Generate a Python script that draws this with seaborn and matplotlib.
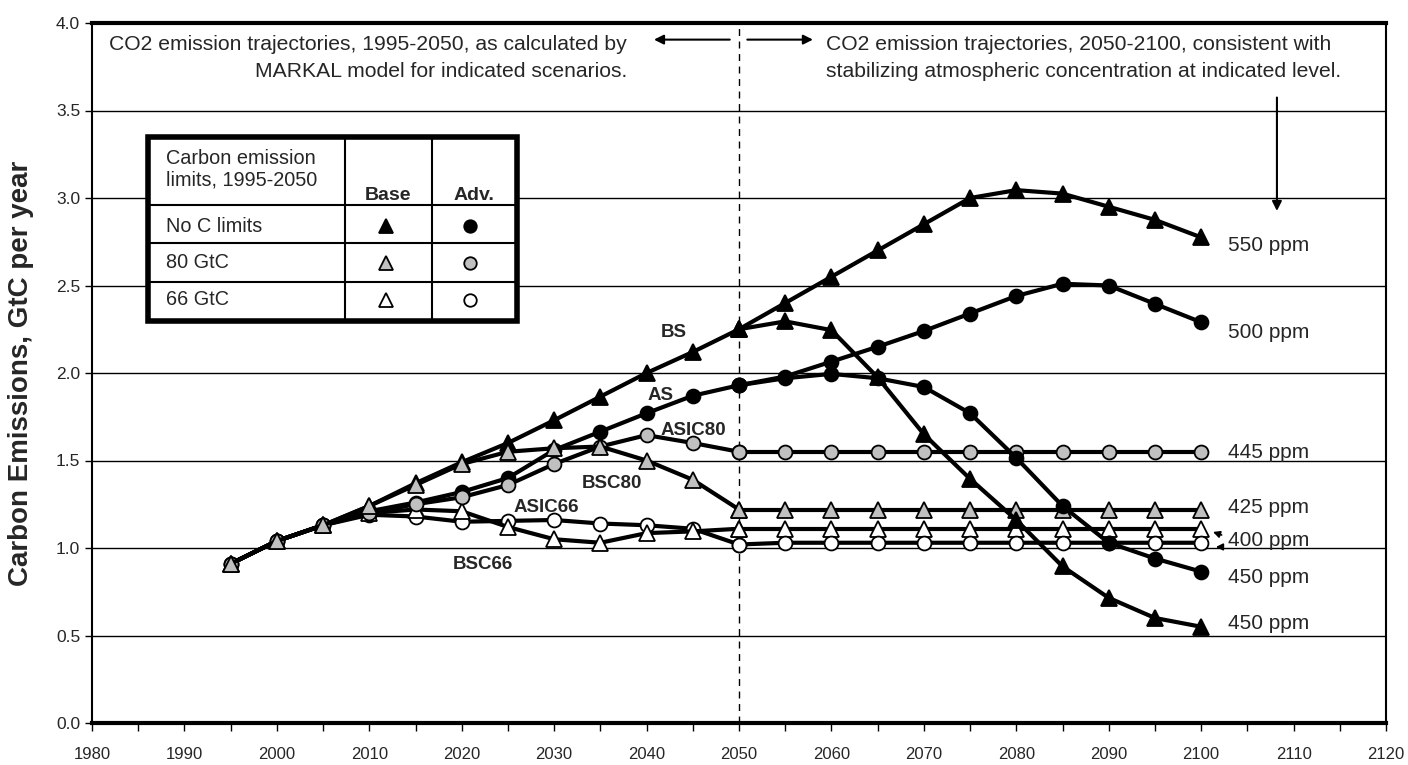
import matplotlib
matplotlib.use('Agg')
import matplotlib.pyplot as plt
import seaborn as sns
from matplotlib.lines import Line2D
from matplotlib.patches import Rectangle
from matplotlib.transforms import Affine2D

# data
years_a = [1995, 2000, 2005, 2010, 2015, 2020, 2025, 2030, 2035, 2040, 2045, 2050]
years_b = [2050, 2055, 2060, 2065, 2070, 2075, 2080, 2085, 2090, 2095, 2100]

bs = [0.91, 1.04, 1.13, 1.24, 1.37, 1.49, 1.60, 1.73, 1.865, 2.00, 2.12, 2.25]
as_ = [0.91, 1.04, 1.13, 1.21, 1.26, 1.32, 1.40, 1.56, 1.665, 1.77, 1.87, 1.93]
asic80 = [0.91, 1.04, 1.13, 1.20, 1.25, 1.29, 1.36, 1.48, 1.58, 1.645, 1.60, 1.55]
bsc80 = [0.91, 1.04, 1.13, 1.24, 1.36, 1.48, 1.55, 1.57, 1.58, 1.50, 1.39, 1.22]
asic66 = [0.91, 1.04, 1.13, 1.19, 1.18, 1.15, 1.155, 1.16, 1.14, 1.13, 1.11, 1.02]
bsc66 = [0.91, 1.04, 1.13, 1.20, 1.22, 1.21, 1.12, 1.05, 1.03, 1.085, 1.095, 1.11]

bs_550 = [2.25, 2.40, 2.55, 2.70, 2.85, 3.00, 3.045, 3.025, 2.95, 2.875, 2.775]
bs_450 = [2.25, 2.295, 2.245, 1.975, 1.65, 1.395, 1.16, 0.895, 0.715, 0.60, 0.55]
as_500 = [1.93, 1.98, 2.065, 2.15, 2.24, 2.34, 2.44, 2.51, 2.50, 2.395, 2.29]
as_450 = [1.93, 1.97, 1.995, 1.97, 1.92, 1.77, 1.515, 1.24, 1.03, 0.94, 0.865]
asic80_445 = [1.55, 1.55, 1.55, 1.55, 1.55, 1.55, 1.55, 1.55, 1.55, 1.55, 1.55]
bsc80_425 = [1.22, 1.22, 1.22, 1.22, 1.22, 1.22, 1.22, 1.22, 1.22, 1.22, 1.22]
asic66_400 = [1.02, 1.03, 1.03, 1.03, 1.03, 1.03, 1.03, 1.03, 1.03, 1.03, 1.03]
bsc66_400 = [1.11, 1.11, 1.11, 1.11, 1.11, 1.11, 1.11, 1.11, 1.11, 1.11, 1.11]

scenario_labels = ['BS', 'AS', 'ASIC80', 'BSC80', 'ASIC66', 'BSC66']
scenario_pos = [(2042.9, 2.234), (2041.5, 1.869), (2045.1, 1.674),
                (2036.3, 1.366), (2029.2, 1.234), (2022.3, 0.903)]
ppm_labels = ['550 ppm', '500 ppm', '445 ppm', '425 ppm', '400 ppm', '450 ppm', '450 ppm']
ppm_y = [2.731, 2.229, 1.543, 1.234, 1.04, 0.834, 0.571]

GREY = '#C0C0C0'

sns.set_theme(style="white")
plt.rcParams['font.family'] = ['Liberation Sans', 'DejaVu Sans']

fig = plt.figure(figsize=(14.08, 7.65), dpi=100)
ax = fig.add_axes([92 / 1408, 1 - 723 / 765, (1386 - 92) / 1408, 700 / 765])


def draw(x, y, marker, face, ms):
    sns.lineplot(x=x, y=y, ax=ax, color='black', lw=3, marker=marker, ms=ms,
                 markerfacecolor=face, markeredgecolor='black', markeredgewidth=1.3,
                 errorbar=None, legend=False)


# 1995-2050
draw(years_a, asic66, 'o', 'white', 10)
draw(years_a, bsc66, '^', 'white', 12)
draw(years_a, as_, 'o', 'black', 10)
draw(years_a, bs, '^', 'black', 12)
draw(years_a, asic80, 'o', GREY, 10)
draw(years_a, bsc80, '^', GREY, 12)
# 2050-2100
draw(years_b, asic80_445, 'o', GREY, 10)
draw(years_b, bsc80_425, '^', GREY, 12)
draw(years_b, bsc66_400, '^', 'white', 12)
draw(years_b, asic66_400, 'o', 'white', 10)
draw(years_b, bs_550, '^', 'black', 12)
draw(years_b, as_500, 'o', 'black', 10)
draw(years_b, as_450, 'o', 'black', 10)
draw(years_b, bs_450, '^', 'black', 12)

ax.axvline(2050, color='black', lw=1, ls=(0, (5, 4)), zorder=1)

ax.set_xlim(1980, 2120)
ax.set_ylim(0, 4)
ax.set_xticks(range(1980, 2121, 10))
ax.set_xticks(range(1985, 2120, 10), minor=True)
ax.set_yticks([i * 0.5 for i in range(9)])
ax.set_yticklabels([f'{i * 0.5:.1f}' for i in range(9)])
ax.set_axisbelow(True)
ax.yaxis.grid(True, color='black', lw=1)
ax.xaxis.grid(False)
ax.tick_params(axis='x', which='both', bottom=True, direction='out', length=6,
               width=1, color='black', labelsize=12, pad=11)
ax.tick_params(axis='y', left=True, direction='out', length=5, width=1,
               color='black', labelsize=12.5)
for side in ['top', 'bottom']:
    ax.spines[side].set_linewidth(3)
for side in ['left', 'right']:
    ax.spines[side].set_linewidth(1.5)
for s in ax.spines.values():
    s.set_color('black')
ax.set_xlabel('')
ax.set_ylabel('Carbon Emissions, GtC per year', fontsize=20, fontweight='bold')
ax.yaxis.set_label_coords(-0.045, 0.5)

# annotations
ax.text(2037.9, 3.875, 'CO2 emission trajectories, 1995-2050, as calculated by',
        ha='right', va='center', fontsize=15.2)
ax.text(2037.9, 3.725, 'MARKAL model for indicated scenarios.',
        ha='right', va='center', fontsize=15.2)
ax.text(2059.4, 3.875, 'CO2 emission trajectories, 2050-2100, consistent with',
        ha='left', va='center', fontsize=15.2)
ax.text(2059.4, 3.725, 'stabilizing atmospheric concentration at indicated level.',
        ha='left', va='center', fontsize=15.2)
arrow = dict(arrowstyle='-|>', color='black', lw=1.5, mutation_scale=14)
ax.annotate('', xy=(2040.5, 3.905), xytext=(2049.3, 3.905), arrowprops=arrow)
ax.annotate('', xy=(2058.3, 3.905), xytext=(2050.6, 3.905), arrowprops=arrow)
ax.annotate('', xy=(2108.2, 2.91), xytext=(2108.2, 3.59), arrowprops=arrow)
small = dict(arrowstyle='-|>', color='black', lw=1.2, mutation_scale=10)
ax.annotate('', xy=(2101.0, 1.097), xytext=(2102.5, 1.069), arrowprops=small)
ax.annotate('', xy=(2101.3, 1.006), xytext=(2102.5, 1.006), arrowprops=small)

for lab, (x, y) in zip(scenario_labels, scenario_pos):
    ax.text(x, y, lab, ha='center', va='center', fontsize=13.5, fontweight='bold')
for lab, y in zip(ppm_labels, ppm_y):
    ax.text(2102.9, y, lab, ha='left', va='center', fontsize=15)

# marker key table, laid out in pixel coordinates from the top-left
px = Affine2D().scale(1 / 1408, -1 / 765).translate(0, 1) + fig.transFigure
fig.add_artist(Rectangle((148, 137), 369, 184, transform=px, facecolor='white',
                         edgecolor='black', lw=4, zorder=5))
for yy in [205, 243, 282]:
    fig.add_artist(Line2D([148, 517], [yy, yy], transform=px, color='black', lw=1.5, zorder=6))
for xx in [345, 432]:
    fig.add_artist(Line2D([xx, xx], [137, 321], transform=px, color='black', lw=1.5, zorder=6))
fig.text(166 / 1408, 1 - 158 / 765, 'Carbon emission', fontsize=14.3, va='center', zorder=7)
fig.text(166 / 1408, 1 - 180 / 765, 'limits, 1995-2050', fontsize=14.3, va='center', zorder=7)
fig.text(388 / 1408, 1 - 195 / 765, 'Base', fontsize=14, fontweight='bold',
         ha='center', va='center', zorder=7)
fig.text(474 / 1408, 1 - 195 / 765, 'Adv.', fontsize=14, fontweight='bold',
         ha='center', va='center', zorder=7)
rows = ['No C limits', '80 GtC', '66 GtC']
row_y = [226, 263, 300]
fills = ['black', GREY, 'white']
for lab, yy, fc in zip(rows, row_y, fills):
    fig.text(166 / 1408, 1 - yy / 765, lab, fontsize=14.3, va='center', zorder=7)
    fig.add_artist(Line2D([386], [yy], transform=px, marker='^', ms=10, color='black',
                          markerfacecolor=fc, markeredgewidth=1.3, zorder=7))
    fig.add_artist(Line2D([470], [yy], transform=px, marker='o', ms=9, color='black',
                          markerfacecolor=fc, markeredgewidth=1.3, zorder=7))

fig.savefig('out.png', dpi=100)
